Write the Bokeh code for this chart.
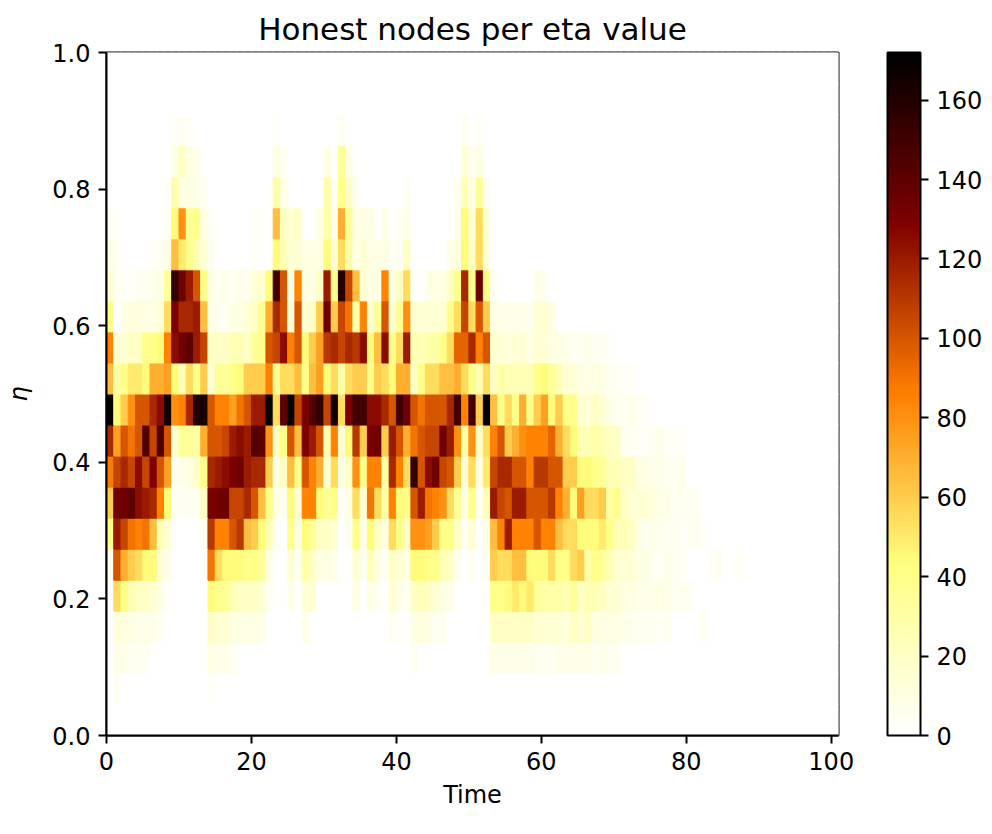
from bokeh.plotting import figure
from bokeh.models import ColumnDataSource, LinearColorMapper, ColorBar, FixedTicker, PrintfTickFormatter
from bokeh.embed import file_html
from bokeh.resources import INLINE

# ---- data: counts of honest nodes per eta bin (22 bins on [0,1]) for time 0..100 ----
n_time = 101
n_bins = 22
vmax = 172

bin_00 = []
bin_01 = [0, 5, 0, 0, 0, 0, 0, 0, 0, 0,
          0, 0, 0, 0, 3]
bin_02 = [0, 8, 8, 5, 5, 5, 0, 0, 0, 0,
          0, 0, 0, 0, 10, 8, 8, 5, 0, 0,
          0, 0, 0, 0, 0, 0, 0, 0, 0, 0,
          0, 0, 0, 0, 0, 0, 0, 0, 0, 0,
          0, 0, 5, 0, 0, 0, 0, 0, 0, 0,
          0, 0, 0, 10, 8, 8, 8, 8, 8, 5,
          5, 5, 8, 8, 8, 8, 8, 5, 8, 5,
          5]
bin_03 = [0, 12, 12, 10, 8, 8, 8, 5, 0, 0,
          0, 0, 0, 0, 20, 15, 15, 10, 10, 10,
          10, 8, 0, 0, 0, 0, 0, 8, 0, 0,
          0, 0, 0, 0, 0, 0, 0, 0, 0, 5,
          3, 0, 10, 12, 8, 5, 5, 0, 0, 0,
          0, 0, 0, 20, 20, 20, 20, 20, 20, 15,
          15, 15, 15, 12, 20, 15, 20, 10, 10, 10,
          10, 8, 5, 5, 5, 5, 3, 5, 0, 0,
          0, 0, 5]
bin_04 = [0, 55, 40, 25, 20, 20, 15, 10, 3, 0,
          0, 0, 0, 0, 45, 40, 35, 25, 20, 20,
          20, 15, 5, 0, 0, 8, 0, 15, 15, 0,
          0, 0, 0, 0, 10, 0, 10, 5, 0, 15,
          8, 5, 20, 25, 20, 15, 10, 8, 0, 0,
          0, 0, 0, 40, 40, 45, 50, 45, 50, 35,
          30, 30, 30, 25, 35, 20, 25, 25, 20, 15,
          15, 10, 10, 8, 8, 8, 10, 8, 5, 5,
          5]
bin_05 = [5, 100, 70, 60, 55, 45, 45, 15, 8, 0,
          0, 0, 0, 0, 90, 55, 45, 45, 45, 40,
          40, 35, 10, 0, 0, 15, 5, 30, 20, 10,
          10, 8, 0, 0, 15, 5, 25, 10, 5, 20,
          15, 10, 45, 45, 40, 40, 25, 20, 5, 0,
          5, 0, 5, 60, 55, 55, 65, 65, 45, 45,
          45, 55, 40, 40, 55, 60, 30, 40, 35, 25,
          15, 15, 15, 10, 10, 5, 3, 8, 5, 3,
          0, 0, 0, 3, 5, 0, 0, 4]
bin_06 = [40, 120, 105, 90, 85, 90, 65, 25, 15, 0,
          0, 0, 0, 5, 110, 85, 85, 100, 110, 65,
          60, 45, 25, 5, 0, 40, 10, 45, 35, 20,
          20, 15, 0, 5, 40, 10, 45, 20, 10, 55,
          40, 20, 80, 80, 75, 60, 40, 40, 20, 5,
          15, 0, 10, 65, 85, 120, 85, 85, 85, 100,
          85, 85, 65, 55, 55, 45, 45, 45, 50, 40,
          25, 25, 20, 10, 5, 8, 5, 5, 5, 3,
          5, 5, 3]
bin_07 = [60, 135, 135, 140, 125, 120, 115, 85, 45, 3,
          5, 5, 5, 20, 130, 135, 135, 105, 105, 115,
          100, 65, 40, 10, 5, 45, 15, 85, 85, 45,
          35, 40, 3, 10, 55, 15, 90, 55, 30, 85,
          45, 40, 100, 120, 90, 85, 80, 55, 35, 10,
          40, 5, 25, 120, 105, 100, 120, 120, 100, 100,
          100, 110, 85, 70, 45, 75, 55, 55, 60, 30,
          40, 20, 15, 15, 15, 12, 8, 8, 5, 5,
          5, 5]
bin_08 = [88, 105, 115, 105, 125, 105, 130, 100, 75, 5,
          8, 10, 20, 40, 115, 120, 125, 130, 135, 120,
          115, 115, 60, 10, 20, 65, 40, 100, 85, 70,
          15, 55, 10, 20, 80, 40, 85, 85, 30, 115,
          85, 55, 155, 100, 125, 135, 105, 100, 60, 15,
          55, 10, 50, 105, 115, 115, 100, 100, 85, 110,
          110, 100, 100, 60, 60, 45, 45, 40, 35, 25,
          25, 20, 20, 10, 10, 8, 8, 5, 5, 8]
bin_09 = [115, 75, 100, 90, 100, 145, 105, 145, 100, 15,
          35, 35, 30, 70, 100, 100, 105, 120, 125, 120,
          145, 140, 80, 20, 40, 100, 65, 130, 120, 100,
          25, 85, 15, 45, 110, 60, 130, 135, 60, 120,
          100, 70, 90, 100, 105, 105, 135, 120, 80, 30,
          80, 20, 55, 85, 100, 60, 70, 80, 85, 85,
          85, 95, 70, 55, 45, 25, 25, 30, 25, 20,
          20, 5, 5, 3, 3, 5, 8, 3, 3, 3]
bin_10 = [170, 45, 60, 80, 100, 100, 115, 125, 165, 80,
          85, 115, 160, 165, 100, 85, 85, 75, 90, 100,
          120, 120, 170, 55, 140, 170, 105, 130, 145, 155,
          105, 165, 55, 130, 150, 150, 125, 125, 115, 100,
          150, 135, 100, 90, 100, 100, 100, 115, 150, 85,
          150, 60, 170, 65, 40, 55, 40, 70, 40, 60,
          75, 45, 60, 40, 40, 15, 15, 20, 15, 10,
          5, 5, 8, 5, 3]
bin_11 = [65, 30, 40, 50, 50, 45, 70, 70, 75, 45,
          25, 55, 40, 60, 15, 35, 35, 40, 45, 60,
          60, 60, 85, 35, 55, 55, 65, 40, 65, 75,
          45, 55, 30, 55, 60, 60, 40, 60, 55, 45,
          70, 70, 20, 40, 55, 55, 65, 65, 70, 55,
          40, 25, 55, 20, 30, 25, 25, 25, 25, 40,
          45, 35, 25, 15, 15, 10, 10, 10, 10, 5,
          3, 3, 3]
bin_12 = [85, 15, 15, 20, 20, 40, 40, 45, 85, 125,
          135, 140, 120, 105, 20, 20, 20, 25, 25, 20,
          35, 40, 100, 105, 125, 85, 100, 45, 60, 75,
          110, 115, 105, 115, 110, 125, 45, 65, 125, 40,
          55, 120, 25, 25, 30, 30, 40, 55, 95, 95,
          115, 85, 100, 15, 15, 12, 15, 15, 10, 15,
          15, 10, 10, 8, 5, 5, 8, 5, 5, 3]
bin_13 = [40, 0, 10, 12, 12, 10, 10, 15, 55, 130,
          115, 115, 120, 65, 10, 5, 5, 10, 10, 15,
          20, 35, 70, 115, 100, 15, 100, 15, 20, 60,
          135, 60, 105, 90, 30, 85, 15, 35, 100, 15,
          35, 80, 15, 15, 15, 15, 15, 40, 55, 105,
          55, 100, 60, 10, 8, 8, 8, 8, 5, 15,
          15, 10]
bin_14 = [15, 5, 3, 3, 5, 5, 8, 10, 35, 155,
          135, 120, 100, 40, 10, 5, 8, 5, 8, 5,
          15, 15, 45, 150, 100, 10, 85, 10, 10, 20,
          120, 40, 160, 105, 65, 15, 10, 10, 85, 10,
          20, 55, 3, 0, 10, 10, 10, 20, 40, 115,
          40, 135, 40, 5, 0, 0, 0, 0, 0, 8,
          5]
bin_15 = [10, 5, 0, 0, 0, 0, 3, 5, 10, 65,
          50, 40, 25, 15, 5, 0, 0, 0, 0, 0,
          3, 0, 0, 45, 25, 15, 15, 10, 10, 10,
          45, 15, 55, 30, 10, 15, 10, 10, 10, 3,
          5, 20, 0, 0, 0, 0, 0, 8, 12, 45,
          20, 55, 15]
bin_16 = [3, 3, 0, 0, 0, 0, 0, 0, 5, 45,
          80, 35, 40, 10, 3, 0, 0, 0, 0, 0,
          3, 3, 0, 65, 20, 15, 20, 0, 0, 10,
          30, 10, 70, 35, 10, 10, 10, 0, 10, 0,
          5, 10, 0, 0, 0, 0, 0, 0, 8, 45,
          15, 55, 15]
bin_17 = [0, 0, 0, 0, 0, 0, 0, 0, 3, 30,
          10, 10, 8, 5, 0, 0, 0, 0, 0, 0,
          0, 0, 0, 30, 10, 0, 0, 0, 0, 0,
          30, 5, 40, 20, 5, 0, 0, 0, 0, 0,
          0, 5, 0, 0, 0, 0, 0, 0, 5, 25,
          10, 35, 5]
bin_18 = [0, 0, 0, 0, 0, 0, 0, 0, 0, 10,
          20, 10, 8, 0, 0, 0, 0, 0, 0, 0,
          0, 0, 0, 10, 5, 0, 0, 0, 0, 0,
          10, 0, 35, 10, 0, 0, 0, 0, 0, 0,
          0, 0, 0, 0, 0, 0, 0, 0, 0, 15,
          5, 10]
bin_19 = [0, 0, 0, 0, 0, 0, 0, 0, 0, 3,
          5, 3, 0, 0, 0, 0, 0, 0, 0, 0,
          0, 0, 0, 3, 0, 0, 0, 0, 0, 0,
          0, 0, 5, 0, 0, 0, 0, 0, 0, 0,
          0, 0, 0, 0, 0, 0, 0, 0, 0, 5,
          0, 3]
bin_20 = []
bin_21 = []

x_ticks = [0, 20, 40, 60, 80, 100]
y_ticks = [0.0, 0.2, 0.4, 0.6, 0.8, 1.0]
cbar_ticks = [0, 20, 40, 60, 80, 100, 120, 140, 160]

# ---- colormap (afmhot reversed) ----
def afmhot_r(n=256):
    out = []
    for i in range(n):
        x = 1.0 - i / (n - 1)
        r = min(max(2 * x, 0.0), 1.0)
        g = min(max(2 * x - 0.5, 0.0), 1.0)
        b = min(max(2 * x - 1.0, 0.0), 1.0)
        out.append("#%02x%02x%02x" % (round(r * 255), round(g * 255), round(b * 255)))
    return out

palette = afmhot_r()
mapper = LinearColorMapper(palette=palette, low=0, high=vmax)

rows = [bin_00, bin_01, bin_02, bin_03, bin_04, bin_05, bin_06, bin_07, bin_08, bin_09, bin_10,
        bin_11, bin_12, bin_13, bin_14, bin_15, bin_16, bin_17, bin_18, bin_19, bin_20, bin_21]

left, right, bottom, top, val = [], [], [], [], []
for k, row in enumerate(rows):
    full = list(row) + [0] * (n_time - len(row))
    for t in range(n_time):
        left.append(t)
        right.append(t + 1)
        bottom.append(k / n_bins)
        top.append((k + 1) / n_bins)
        val.append(full[t])

src = ColumnDataSource(dict(left=left, right=right, bottom=bottom, top=top, v=val))

FONT = "DejaVu Sans"

p = figure(frame_width=732, frame_height=683, x_range=(0, 101), y_range=(0, 1),
           output_backend="svg", toolbar_location=None, title="Honest nodes per eta value",
           min_border_left=106, min_border_top=52, min_border_bottom=78, min_border_right=136)

p.quad(left="left", right="right", bottom="bottom", top="top", source=src,
       fill_color=dict(field="v", transform=mapper),
       line_color=dict(field="v", transform=mapper), line_width=1)

p.title.text_font = FONT
p.title.text_font_size = "31px"
p.title.text_font_style = "normal"
p.title.text_color = "black"
p.title.align = "center"
p.title.standoff = 12

p.xgrid.visible = False
p.ygrid.visible = False
p.outline_line_color = "black"
p.outline_line_width = 2
p.outline_line_alpha = 1

for ax in (p.xaxis[0], p.yaxis[0]):
    ax.axis_line_color = "black"
    ax.axis_line_width = 2
    ax.major_tick_line_color = "black"
    ax.major_tick_line_width = 2
    ax.major_tick_in = 0
    ax.major_tick_out = 8
    ax.minor_tick_line_color = None
    ax.major_label_text_font = FONT
    ax.major_label_text_font_size = "24px"
    ax.major_label_text_color = "black"
    ax.axis_label_text_font = FONT
    ax.axis_label_text_font_size = "24px"
    ax.axis_label_text_color = "black"
    ax.major_label_standoff = 8

p.xaxis.ticker = FixedTicker(ticks=x_ticks)
p.yaxis.ticker = FixedTicker(ticks=y_ticks)
p.yaxis.formatter = PrintfTickFormatter(format="%.1f")
p.xaxis.axis_label = "Time"
p.yaxis.axis_label = "η"
p.yaxis.axis_label_text_font_style = "italic"
p.xaxis.axis_label_text_font_style = "normal"
p.xaxis.axis_label_standoff = 8
p.yaxis.axis_label_standoff = 16

cb = ColorBar(color_mapper=mapper, ticker=FixedTicker(ticks=cbar_ticks),
              width=33, height=683, location=(49, 0), margin=0, padding=0,
              major_label_text_font=FONT, major_label_text_font_size="24px",
              major_label_text_color="black", label_standoff=8,
              major_tick_line_color="black", major_tick_line_width=2,
              major_tick_in=0, major_tick_out=8, minor_tick_line_color=None,
              bar_line_color="black", bar_line_width=2,
              background_fill_alpha=0, border_line_color=None)
p.add_layout(cb, "right")

open("out.html", "w").write(file_html(p, INLINE))
